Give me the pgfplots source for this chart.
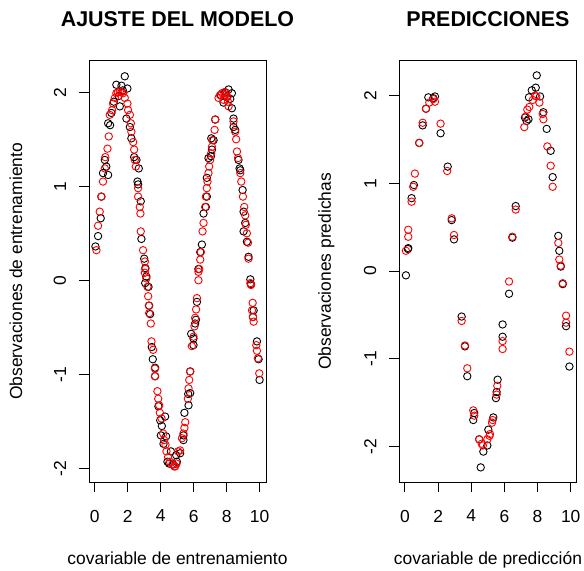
\documentclass[border=0pt]{standalone}
\usepackage{pgfplots}
\pgfplotsset{compat=1.18}
\usepackage{fontspec}
\setmainfont{Liberation Sans}
\pgfplotsset{rplot/.style={
  scale only axis, height=421.8bp,
  clip=false,
  axis line style={line width=0.9bp},
  tick style={line width=0.9bp, black},
  tick align=outside, major tick length=10bp,
  tick pos=left,
  xtick={0,2,4,6,8,10}, xticklabels={0,2,4,6,8,10},
  ytick={-2,-1,0,1,2}, yticklabels={-2,-1,0,1,2},
  tick label style={font=\fontsize{17.5}{21}\selectfont, inner sep=0pt},
  xticklabel style={anchor=north},
  xticklabel shift=17.4bp,
  yticklabel style={rotate=90, anchor=south},
  yticklabel shift=12.7bp,
  every axis title/.style={at={(axis description cs:0.5,1)}, anchor=base, yshift=33.8bp, font=\bfseries\fontsize{21.5}{25}\selectfont},
  every axis x label/.style={at={(axis description cs:0.5,0)}, anchor=base, yshift=-82bp, font=\fontsize{17.5}{21}\selectfont},
  every axis y label/.style={at={(axis description cs:0,0.5)}, xshift=-73bp, rotate=90, anchor=center, font=\fontsize{17.5}{21}\selectfont},
  obs/.style={only marks, mark=o, mark size=3.7bp, color=black, mark options={line width=0.9bp}},
  fit/.style={only marks, mark=o, mark size=3.7bp, color=red, mark options={line width=0.9bp}},
}}
\begin{document}
\begin{tikzpicture}
\useasboundingbox (0,0) rectangle (584bp,571bp);
\begin{axis}[rplot, at={(89bp,88.7bp)}, anchor=south west, width=177bp,
  xmin=-0.35, xmax=10.39, ymin=-2.149, ymax=2.338,
  title={AJUSTE DEL MODELO}, xlabel={covariable de entrenamiento}, ylabel={Observaciones de entrenamiento}]
\addplot[obs] coordinates {
(0.04,0.36)(0.20,0.47)(0.36,0.66)(0.40,0.89)(0.50,1.14)(0.61,1.28)(0.70,1.21)(0.81,1.12)
(0.81,1.67)(0.93,1.65)(1.01,1.78)(1.15,1.90)(1.31,2.08)(1.62,2.07)(1.52,1.85)(1.82,2.17)
(1.98,2.04)(1.92,1.72)(1.45,1.96)(1.70,2.02)(2.13,1.63)(2.22,1.51)(2.39,1.31)(2.53,1.28)(2.67,1.19)
(2.59,1.05)(2.63,1.02)(2.79,0.84)(2.83,0.44)(3.00,0.23)(3.07,0.13)(3.13,0.04)(3.06,-0.03)
(3.26,-0.07)(3.30,-0.27)(3.36,-0.36)(3.46,-0.71)(3.52,-0.84)(3.66,-0.93)(3.66,-1.02)
(3.86,-1.34)(3.97,-1.49)(4.07,-1.55)(4.27,-1.45)(4.01,-1.65)(4.33,-1.66)(4.17,-1.74)
(4.62,-1.82)(4.41,-1.93)(4.51,-1.95)(4.76,-1.96)(4.98,-1.93)(4.94,-1.86)(5.18,-1.84)
(5.38,-1.70)(5.38,-1.65)(5.44,-1.41)(5.69,-1.33)(5.67,-1.21)(5.79,-1.20)(5.79,-0.97)
(5.99,-0.69)(5.85,-0.57)(5.99,-0.62)(6.09,-0.46)(6.14,-0.42)(6.20,-0.23)(6.29,0.12)
(6.40,0.30)(6.50,0.38)(6.60,0.71)(6.74,0.78)(6.80,0.89)(6.80,1.09)(6.90,1.30)(7.05,1.32)
(7.11,1.39)(7.07,1.51)(7.21,1.49)(7.31,1.71)(7.65,1.97)(7.81,1.89)(7.92,2.00)(8.00,1.95)
(8.12,2.03)(8.22,1.93)(8.32,1.99)(8.32,1.83)(8.42,1.72)(8.42,1.63)(8.52,1.60)(8.72,1.28)
(8.79,1.19)(8.83,1.17)(8.97,0.96)(9.03,0.73)(9.13,0.61)(9.03,0.52)(9.23,0.41)(9.33,0.25)
(9.44,0.01)(9.48,-0.04)(9.64,-0.32)(9.60,-0.39)(9.84,-0.65)(9.94,-0.84)(10.00,-1.06)
};
\addplot[fit] coordinates {
(0.10,0.32)(0.20,0.58)(0.30,0.73)(0.40,0.89)(0.50,1.05)(0.61,1.19)(0.64,1.31)(0.77,1.40)
(0.85,1.53)(0.91,1.76)(1.05,1.81)(1.11,1.88)(1.22,1.94)(1.31,1.99)(1.40,2.00)(1.52,2.01)(1.62,2.00)
(1.72,1.99)(1.82,1.94)(1.98,1.88)(2.02,1.81)(2.13,1.76)(2.19,1.67)(2.22,1.58)(2.33,1.47)
(2.39,1.39)(2.43,1.28)(2.49,1.21)(2.63,0.98)(2.63,0.89)(2.73,0.78)(2.77,0.71)(2.79,0.52)
(2.93,0.32)(3.04,0.20)(3.04,0.08)(3.07,0.12)(3.13,0.02)(3.20,-0.07)(3.24,-0.17)(3.28,-0.27)
(3.30,-0.35)(3.40,-0.46)(3.44,-0.65)(3.54,-0.74)(3.65,-0.94)(3.65,-1.02)(3.80,-1.18)
(3.85,-1.26)(3.91,-1.33)(3.95,-1.41)(4.05,-1.47)(4.15,-1.63)(4.21,-1.70)(4.29,-1.75)
(4.35,-1.82)(4.45,-1.88)(4.56,-1.93)(4.70,-1.96)(4.82,-1.98)(4.88,-1.98)(4.96,-1.95)
(5.06,-1.82)(5.18,-1.81)(5.29,-1.68)(5.38,-1.63)(5.44,-1.57)(5.49,-1.51)(5.65,-1.26)
(5.69,-1.15)(5.73,-1.06)(5.79,-0.97)(5.89,-0.70)(5.99,-0.60)(6.05,-0.49)(6.09,-0.40)
(6.15,-0.31)(6.20,-0.19)(6.29,0.00)(6.29,0.09)(6.34,0.12)(6.40,0.22)(6.44,0.30)(6.54,0.52)
(6.60,0.61)(6.70,0.78)(6.74,0.89)(6.80,0.98)(6.84,1.05)(6.90,1.14)(6.94,1.21)(7.00,1.28)
(7.06,1.35)(7.11,1.42)(7.14,1.49)(7.27,1.60)(7.31,1.71)(7.51,1.94)(7.60,1.97)(7.72,1.99)
(7.81,1.92)(7.85,2.00)(7.92,1.97)(7.98,1.99)(8.05,1.95)(8.08,1.90)(8.12,1.85)(8.42,1.69)
(8.52,1.58)(8.58,1.50)(8.63,1.37)(8.69,1.30)(8.83,1.14)(8.89,1.05)(8.99,0.89)(9.07,0.78)
(9.13,0.69)(9.17,0.59)(9.23,0.50)(9.30,0.40)(9.33,0.23)(9.44,-0.03)(9.48,-0.05)(9.58,-0.24)
(9.54,-0.32)(9.60,-0.39)(9.64,-0.44)(9.80,-0.69)(9.84,-0.75)(9.90,-0.83)(9.98,-0.99)
};
\end{axis}
\begin{axis}[rplot, at={(399.3bp,88.7bp)}, anchor=south west, width=177.4bp,
  xmin=-0.34, xmax=10.36, ymin=-2.41, ymax=2.40,
  title={PREDICCIONES}, xlabel={covariable de predicción}, ylabel={Observaciones predichas}]
\addplot[obs] coordinates {
(0.06,-0.05)(0.20,0.26)(0.18,0.25)(0.40,0.83)(0.54,0.98)(0.86,1.46)(1.07,1.66)(1.27,1.85)
(1.41,1.98)(1.71,1.97)(1.81,1.99)(2.15,1.57)(2.58,1.19)(2.82,0.58)(2.96,0.36)(3.42,-0.52)
(3.62,-0.86)(3.76,-1.20)(4.12,-1.70)(4.18,-1.62)(4.48,-1.92)(4.57,-2.24)(4.73,-2.06)
(4.97,-1.99)(5.03,-1.81)(5.33,-1.67)(5.49,-1.45)(5.53,-1.38)(5.59,-1.24)(5.89,-0.61)
(5.89,-0.75)(6.28,-0.26)(6.48,0.38)(6.68,0.74)(7.24,1.75)(7.34,1.71)(7.45,1.73)(7.48,1.98)
(7.65,2.06)(7.89,2.09)(7.95,2.23)(8.15,1.99)(8.35,1.81)(8.55,1.62)(8.79,1.37)(8.91,1.07)
(9.25,0.40)(9.31,0.23)(9.40,0.05)(9.52,-0.15)(9.72,-0.63)(9.92,-1.09)
};
\addplot[fit] coordinates {
(0.06,0.23)(0.20,0.39)(0.20,0.47)(0.40,0.79)(0.50,0.96)(0.60,1.11)(0.86,1.46)(1.07,1.69)
(1.27,1.85)(1.47,1.92)(1.71,1.96)(1.81,1.93)(2.15,1.68)(2.55,1.14)(2.82,0.60)(2.96,0.41)
(3.42,-0.57)(3.62,-0.85)(3.76,-1.11)(4.12,-1.59)(4.18,-1.65)(4.48,-1.92)(4.63,-1.97)
(4.70,-1.99)(4.97,-1.92)(5.10,-1.88)(5.13,-1.86)(5.29,-1.70)(5.25,-1.73)(5.53,-1.41)
(5.57,-1.31)(5.89,-0.80)(5.89,-0.89)(6.28,-0.12)(6.48,0.39)(6.68,0.70)(7.20,1.64)(7.28,1.76)
(7.38,1.84)(7.50,1.87)(7.71,1.95)(7.85,2.00)(7.92,1.99)(8.11,1.92)(8.31,1.79)(8.35,1.73)
(8.59,1.42)(8.79,1.20)(8.91,0.96)(9.25,0.32)(9.31,0.13)(9.40,0.06)(9.52,-0.14)(9.72,-0.51)
(9.72,-0.59)(9.92,-0.92)
};
\end{axis}
\end{tikzpicture}
\end{document}
